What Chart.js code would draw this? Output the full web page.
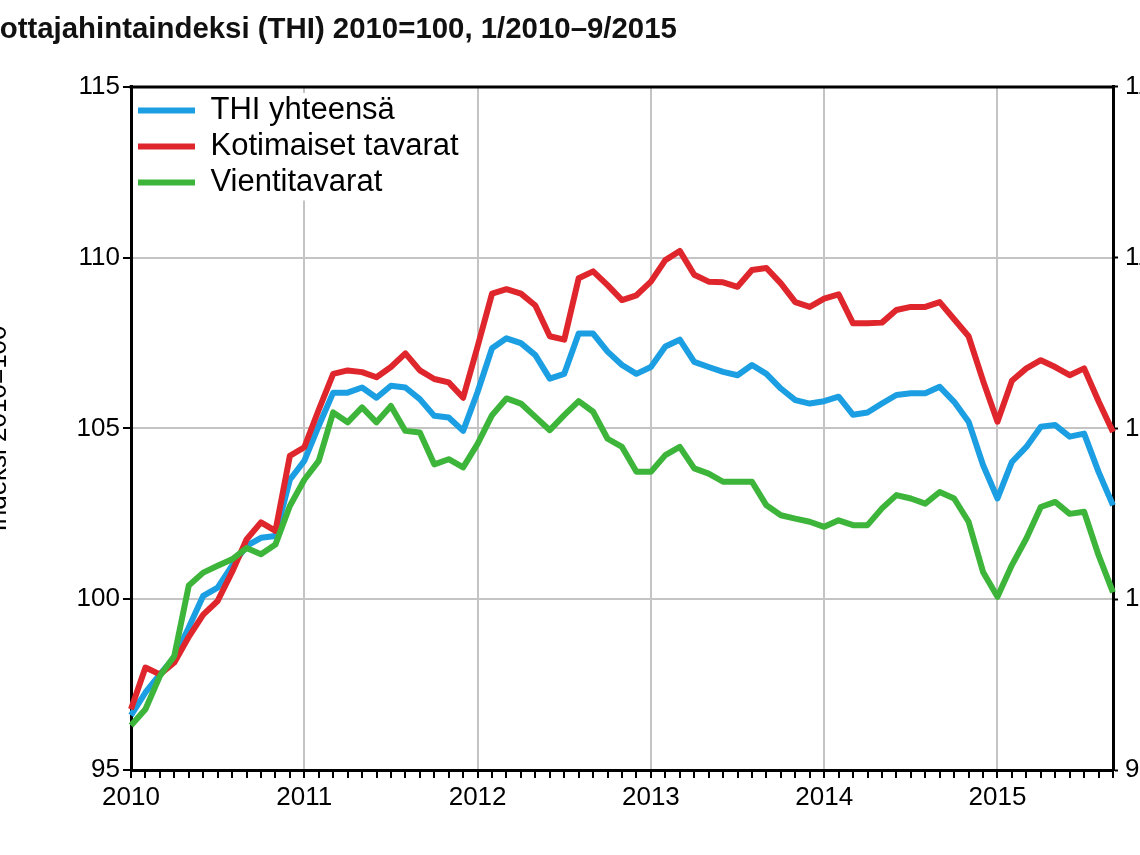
<!DOCTYPE html>
<html lang="fi">
<head>
<meta charset="utf-8">
<title>Tuottajahintaindeksi</title>
<script src="https://cdn.jsdelivr.net/npm/chart.js@4"></script>
<style>
  html, body { margin: 0; padding: 0; background: #fff; overflow: hidden; }
  #wrap { position: absolute; left: -34px; top: 0; width: 1217px; height: 855px; }
</style>
</head>
<body>
<div id="wrap"><canvas id="thiChart"></canvas></div>
<script>
// months 1/2010 - 9/2015
const months = [];
for (let y = 2010; y <= 2015; y++) {
  for (let m = 1; m <= 12; m++) {
    if (y === 2015 && m > 9) break;
    months.push(y + "M" + String(m).padStart(2, "0"));
  }
}

const thiYhteensa = [
  96.6, 97.27, 97.8, 98.3, 99.17, 100.1, 100.34, 100.98, 101.56, 101.8, 101.85, 103.5,
  104.05, 105.08, 106.05, 106.05, 106.2, 105.9, 106.25, 106.2, 105.86, 105.37, 105.32, 104.93,
  106.07, 107.35, 107.64, 107.5, 107.15, 106.46, 106.6, 107.78, 107.78, 107.25, 106.86, 106.6,
  106.8, 107.4, 107.6, 106.95, 106.8, 106.66, 106.56, 106.86, 106.6, 106.17, 105.83, 105.73,
  105.8, 105.93, 105.4, 105.47, 105.73, 105.98, 106.03, 106.03, 106.22, 105.78, 105.2, 103.93,
  102.95, 104.02, 104.46, 105.05, 105.1, 104.76, 104.85, 103.73, 102.75
];
const kotimaiset = [
  96.78, 98.0, 97.8, 98.15, 98.9, 99.55, 99.95, 100.8, 101.75, 102.25, 102.0, 104.2,
  104.45, 105.55, 106.6, 106.7, 106.65, 106.5, 106.8, 107.2, 106.7, 106.45, 106.35, 105.9,
  107.4, 108.95, 109.08, 108.95, 108.6, 107.7, 107.6, 109.4, 109.6, 109.2, 108.76, 108.9,
  109.3, 109.93, 110.2, 109.5, 109.3, 109.28, 109.15, 109.64, 109.7, 109.25, 108.7, 108.56,
  108.8, 108.93, 108.08, 108.08, 108.1, 108.47, 108.56, 108.56, 108.7, 108.2, 107.7, 106.4,
  105.2, 106.4, 106.76, 107.0, 106.8, 106.56, 106.76, 105.8, 104.9
];
const vientitavarat = [
  96.3, 96.78, 97.75, 98.34, 100.4, 100.78, 100.98, 101.17, 101.5, 101.32, 101.6, 102.73,
  103.5, 104.05, 105.47, 105.18, 105.62, 105.18, 105.66, 104.93, 104.88, 103.95, 104.1, 103.86,
  104.55, 105.39, 105.88, 105.73, 105.34, 104.95, 105.39, 105.8, 105.49, 104.7, 104.46, 103.73,
  103.73, 104.22, 104.46, 103.83, 103.68, 103.44, 103.44, 103.44, 102.75, 102.46, 102.36, 102.27,
  102.12, 102.31, 102.17, 102.17, 102.66, 103.05, 102.95, 102.8, 103.14, 102.95, 102.27, 100.8,
  100.07, 101.0, 101.78, 102.7, 102.85, 102.5, 102.56, 101.29, 100.2
];
const yMin = 95;
const yMax = 115;
const yStep = 5;

const gridGray = "#c4c4c4";
const legendFont = 31;
const legendPad = 5;

Chart.defaults.font.family = "'Liberation Sans', Arial, sans-serif";
Chart.defaults.color = "#000";

// white box behind legend + top frame line
const legendBox = {
  id: "legendBox",
  afterLayout(chart) {
    const ca = chart.chartArea;
    Object.assign(chart.legend, { left: ca.left + 2, top: ca.top + 3, right: ca.right, bottom: ca.bottom });
  },
  beforeDatasetsDraw(chart) {
    const { ctx, chartArea, legend } = chart;
    const w = Math.max(...legend.legendHitBoxes.map((b) => b.width));
    const n = legend.legendItems.length;
    const h = legend.top + legendPad + n * (legendFont + legendPad) - legendPad / 2;
    ctx.save();
    ctx.fillStyle = "#fff";
    ctx.fillRect(chartArea.left + 2, chartArea.top + 6, w + legendPad + 10, h - chartArea.top - 6);
    ctx.restore();
    legend.draw();
  },
  afterDraw(chart) {
    const { ctx, chartArea } = chart;
    ctx.save();
    ctx.strokeStyle = "#000";
    ctx.lineWidth = 3;
    ctx.beginPath();
    ctx.moveTo(chartArea.left - 1.5, chartArea.top);
    ctx.lineTo(chartArea.right + 1.5, chartArea.top);
    ctx.stroke();
    ctx.restore();
  },
};

const line = (label, data, color, order) => ({
  label,
  data,
  borderColor: color,
  backgroundColor: color,
  borderWidth: 6,
  pointRadius: 0,
  tension: 0,
  borderJoinStyle: "round",
  order,
});

new Chart(document.getElementById("thiChart"), {
  type: "line",
  data: {
    labels: months,
    datasets: [
      line("THI yhteensä", thiYhteensa, "#1c9fe2", 2),
      line("Kotimaiset tavarat", kotimaiset, "#df262c", 1),
      line("Vientitavarat", vientitavarat, "#3db53a", 0),
    ],
  },
  options: {
    responsive: true,
    maintainAspectRatio: false,
    animation: false,
    layout: { padding: 0 },
    plugins: {
      title: {
        display: true,
        text: "Tuottajahintaindeksi (THI) 2010=100, 1/2010–9/2015",
        align: "start",
        color: "#111",
        font: { size: 29.4, weight: "bold" },
        padding: { top: 12, bottom: 39.7 },
      },
      legend: {
        position: "chartArea",
        align: "start",
        labels: {
          boxWidth: 57,
          boxHeight: 6,
          padding: legendPad,
          color: "#000",
          font: { size: legendFont },
          sort: (a, b) => a.datasetIndex - b.datasetIndex,
          generateLabels: (chart) =>
            Chart.defaults.plugins.legend.labels
              .generateLabels(chart)
              .map((item) => ({ ...item, lineWidth: 0 })),
        },
      },
      tooltip: { enabled: false },
    },
    scales: {
      x: {
        type: "category",
        offset: false,
        grid: {
          color: (c) => (c.index % 12 === 0 ? gridGray : "rgba(0,0,0,0)"),
          lineWidth: 2,
          tickColor: "#000",
          tickWidth: 2,
          tickLength: 8,
        },
        border: { color: "#000", width: 3 },
        ticks: {
          autoSkip: false,
          maxRotation: 0,
          padding: 4,
          font: { size: 26 },
          color: "#000",
          callback: (v, i) => (i % 12 === 0 ? months[i].slice(0, 4) : ""),
        },
        afterFit: (s) => { s.height = 85; },
      },
      y: {
        position: "left",
        min: yMin,
        max: yMax,
        grid: { color: gridGray, lineWidth: 2, tickColor: "#000", tickWidth: 2, tickLength: 8 },
        border: { color: "#000", width: 3 },
        ticks: { stepSize: yStep, padding: 3, font: { size: 26 }, color: "#000" },
        title: {
          display: true,
          text: "Indeksi 2010=100",
          font: { size: 26 },
          color: "#000",
          padding: { top: 17, bottom: 0 },
        },
        afterFit: (s) => { s.width = 165; },
      },
      y2: {
        position: "right",
        min: yMin,
        max: yMax,
        grid: { drawOnChartArea: false, tickColor: "#000", tickWidth: 2, tickLength: 5 },
        border: { color: "#000", width: 3 },
        ticks: { stepSize: yStep, padding: 7, font: { size: 26 }, color: "#000" },
        afterFit: (s) => { s.width = 70; },
      },
    },
  },
  plugins: [legendBox],
});
</script>
</body>
</html>
